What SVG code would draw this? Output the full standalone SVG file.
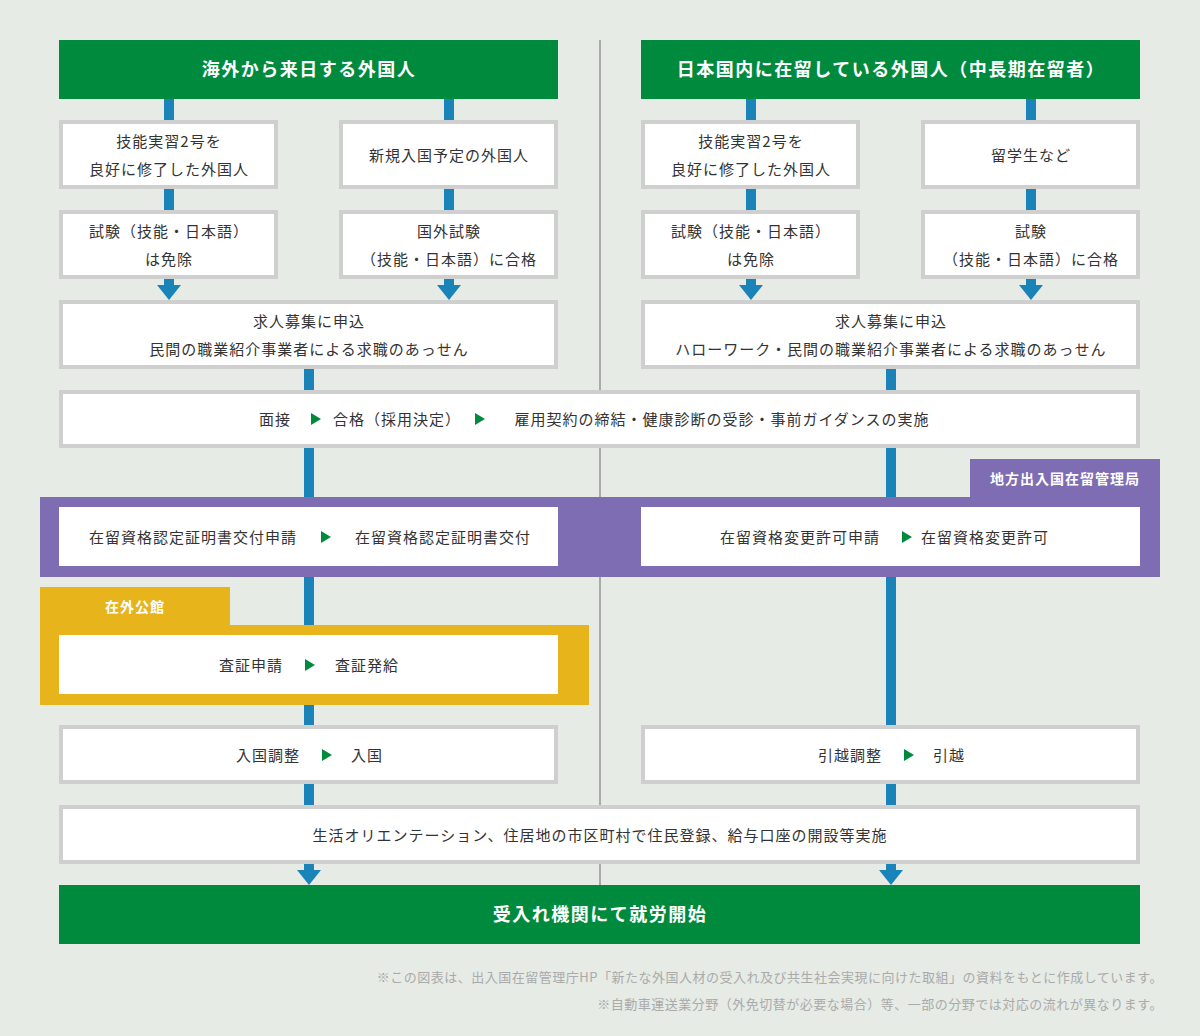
<svg xmlns="http://www.w3.org/2000/svg" width="1200" height="1036" viewBox="0 0 1200 1036">
<style>
text{font-family:"Noto Sans CJK JP","Noto Sans",sans-serif;}
.t{font-size:15px;fill:#333;text-anchor:middle;letter-spacing:1px}
.h{font-size:18px;fill:#fff;font-weight:bold;text-anchor:middle;letter-spacing:1.5px}
.tab{font-size:14px;fill:#fff;font-weight:bold;text-anchor:middle;letter-spacing:1px}
.b{fill:#fff;stroke:#cfcfcf;stroke-width:4}
.w{fill:#fff}
.ln{stroke:#1a84b8;stroke-width:10;fill:none}
.ah{fill:#1a84b8}
.tri{fill:#008a3e}
.note{font-size:13px;fill:#aaa;text-anchor:end;letter-spacing:0.5px}
</style>
<rect width="1200" height="1036" fill="#e6ebe6"/>
<line x1="600" y1="40" x2="600" y2="885" stroke="#aaa" stroke-width="2"/>
<g id="connectors">
<path class="ln" d="M169 99V120M169 189V210M169 279V287M449 99V120M449 189V210M449 279V287M751 99V120M751 189V210M751 279V287M1031 99V120M1031 189V210M1031 279V287M309 369V872M891 369V872"/>
<polygon class="ah" points="157,285 181,285 169,300"/>
<polygon class="ah" points="437,285 461,285 449,300"/>
<polygon class="ah" points="739,285 763,285 751,300"/>
<polygon class="ah" points="1019,285 1043,285 1031,300"/>
<polygon class="ah" points="297,870 321,870 309,885"/>
<polygon class="ah" points="879,870 903,870 891,885"/>
</g>
<g id="h1"><rect x="59" y="40" width="499" height="59" fill="#008a3e"/><text class="h" x="309" y="76">海外から来日する外国人</text></g>
<g id="h2"><rect x="641" y="40" width="499" height="59" fill="#008a3e"/><text class="h" x="891" y="76">日本国内に在留している外国人（中長期在留者）</text></g>
<g id="n1"><rect class="b" x="61" y="122" width="215" height="65"/><text class="t" x="169" y="147">技能実習2号を</text><text class="t" x="169" y="175">良好に修了した外国人</text></g>
<g id="n2"><rect class="b" x="341" y="122" width="215" height="65"/><text class="t" x="449" y="161">新規入国予定の外国人</text></g>
<g id="n3"><rect class="b" x="643" y="122" width="215" height="65"/><text class="t" x="751" y="147">技能実習2号を</text><text class="t" x="751" y="175">良好に修了した外国人</text></g>
<g id="n4"><rect class="b" x="923" y="122" width="215" height="65"/><text class="t" x="1031" y="161">留学生など</text></g>
<g id="n5"><rect class="b" x="61" y="212" width="215" height="65"/><text class="t" x="169" y="237">試験（技能・日本語）</text><text class="t" x="169" y="265">は免除</text></g>
<g id="n6"><rect class="b" x="341" y="212" width="215" height="65"/><text class="t" x="449" y="237">国外試験</text><text class="t" x="449" y="265">（技能・日本語）に合格</text></g>
<g id="n7"><rect class="b" x="643" y="212" width="215" height="65"/><text class="t" x="751" y="237">試験（技能・日本語）</text><text class="t" x="751" y="265">は免除</text></g>
<g id="n8"><rect class="b" x="923" y="212" width="215" height="65"/><text class="t" x="1031" y="237">試験</text><text class="t" x="1031" y="265">（技能・日本語）に合格</text></g>
<g id="n9"><rect class="b" x="61" y="302" width="495" height="65"/><text class="t" x="309" y="327">求人募集に申込</text><text class="t" x="309" y="355">民間の職業紹介事業者による求職のあっせん</text></g>
<g id="n10"><rect class="b" x="643" y="302" width="495" height="65"/><text class="t" x="891" y="327">求人募集に申込</text><text class="t" x="891" y="355">ハローワーク・民間の職業紹介事業者による求職のあっせん</text></g>
<g id="n11"><rect class="b" x="61" y="392" width="1077" height="54"/>
<text class="t" x="275" y="425">面接</text><polygon class="tri" points="311,413 321,419 311,425"/>
<text class="t" x="397" y="425">合格（採用決定）</text><polygon class="tri" points="475,413 485,419 475,425"/>
<text class="t" x="722" y="425">雇用契約の締結・健康診断の受診・事前ガイダンスの実施</text></g>
<g id="imm"><rect x="40" y="497" width="1120" height="80" fill="#7f6db4"/><rect x="970" y="459" width="190" height="39" fill="#7f6db4"/><text class="tab" x="1065" y="484">地方出入国在留管理局</text>
<rect class="w" x="59" y="507" width="499" height="59"/>
<text class="t" x="193" y="543">在留資格認定証明書交付申請</text><polygon class="tri" points="321,531 331,537 321,543"/><text class="t" x="443" y="543">在留資格認定証明書交付</text>
<rect class="w" x="641" y="507" width="499" height="59"/>
<text class="t" x="800" y="543">在留資格変更許可申請</text><polygon class="tri" points="902,531 912,537 902,543"/><text class="t" x="985" y="543">在留資格変更許可</text></g>
<g id="emb"><rect x="40" y="587" width="190" height="40" fill="#e8b41c"/><rect x="40" y="625" width="549" height="80" fill="#e8b41c"/><text class="tab" x="135" y="612">在外公館</text>
<rect class="w" x="59" y="635" width="499" height="59"/>
<text class="t" x="251" y="671">査証申請</text><polygon class="tri" points="305,659 315,665 305,671"/><text class="t" x="367" y="671">査証発給</text></g>
<g id="n12"><rect class="b" x="61" y="727" width="495" height="55"/><text class="t" x="268" y="761">入国調整</text><polygon class="tri" points="322,749 332,755 322,761"/><text class="t" x="367" y="761">入国</text></g>
<g id="n13"><rect class="b" x="643" y="727" width="495" height="55"/><text class="t" x="850" y="761">引越調整</text><polygon class="tri" points="904,749 914,755 904,761"/><text class="t" x="949" y="761">引越</text></g>
<g id="n14"><rect class="b" x="61" y="807" width="1077" height="55"/><text class="t" x="600" y="841">生活オリエンテーション、住居地の市区町村で住民登録、給与口座の開設等実施</text></g>
<g id="n15"><rect x="59" y="885" width="1081" height="59" fill="#008a3e"/><text class="h" x="600" y="921">受入れ機関にて就労開始</text></g>
<text class="note" x="1163" y="982">※この図表は、出入国在留管理庁HP「新たな外国人材の受入れ及び共生社会実現に向けた取組」の資料をもとに作成しています。</text>
<text class="note" x="1163" y="1009">※自動車運送業分野（外免切替が必要な場合）等、一部の分野では対応の流れが異なります。</text>
</svg>
